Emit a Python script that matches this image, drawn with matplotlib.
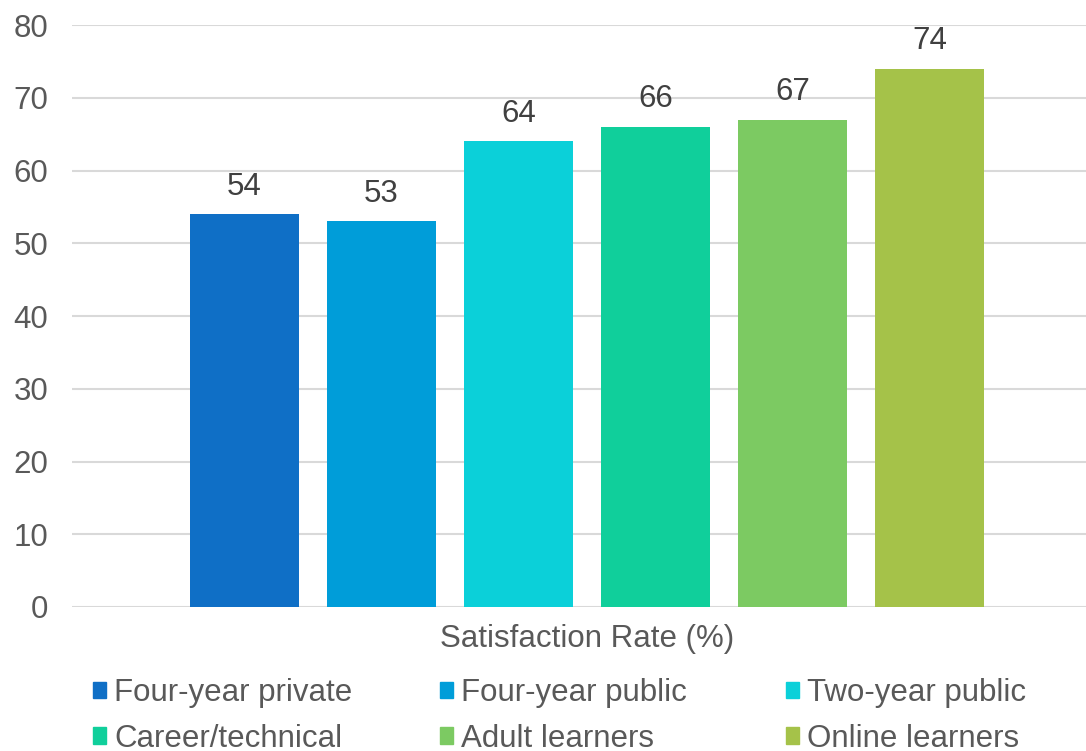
import matplotlib.pyplot as plt
from matplotlib.patches import Patch

plt.rcParams['font.family'] = ['Liberation Sans', 'DejaVu Sans']

series = ['Four-year private', 'Four-year public', 'Two-year public',
          'Career/technical', 'Adult learners', 'Online learners']
values = [54, 53, 64, 66, 67, 74]
colors = ['#0F6FC6', '#009DD9', '#0BD0D9', '#10CF9B', '#7CCA62', '#A5C249']
category = 'Satisfaction Rate (%)'

fig = plt.figure(figsize=(10.86, 7.51), dpi=100)
ax = fig.add_axes([72 / 1086, 144 / 751, 1 - 72 / 1086, 582 / 751])

fs = 22.5
for i, (v, c) in enumerate(zip(values, colors)):
    ax.bar(i, v, width=0.796, color=c, zorder=2)
    ax.annotate(str(v), (i, v), xytext=(0, 9), textcoords='offset points',
                ha='center', va='bottom', fontsize=fs, color='#404040')

ax.set_xlim(-1.259, 6.14)
ax.set_ylim(0, 80)
ax.set_yticks(range(0, 81, 10))
ax.yaxis.grid(True, color='#d9d9d9', linewidth=1.5, zorder=0)
ax.set_axisbelow(True)
ax.tick_params(axis='y', length=0, pad=17, labelsize=fs, labelcolor='#595959')
ax.set_xticks([2.5])
ax.set_xticklabels([category])
ax.tick_params(axis='x', length=0, pad=12, labelsize=fs, labelcolor='#595959')
for s in ax.spines.values():
    s.set_visible(False)

# legend in three columns, placed one column at a time
col_x = [93, 440, 786]
for k in range(3):
    idx = [k, k + 3]
    handles = [Patch(color=colors[j]) for j in idx]
    fig.legend(handles, [series[j] for j in idx], loc='upper left',
               bbox_to_anchor=(col_x[k] / 1086, (751 - 678) / 751),
               frameon=False, fontsize=fs, labelcolor='#595959',
               handlelength=0.42, handleheight=0.42, handletextpad=0.25,
               labelspacing=0.5, borderpad=0, borderaxespad=0)

fig.savefig('out.png', dpi=100)
